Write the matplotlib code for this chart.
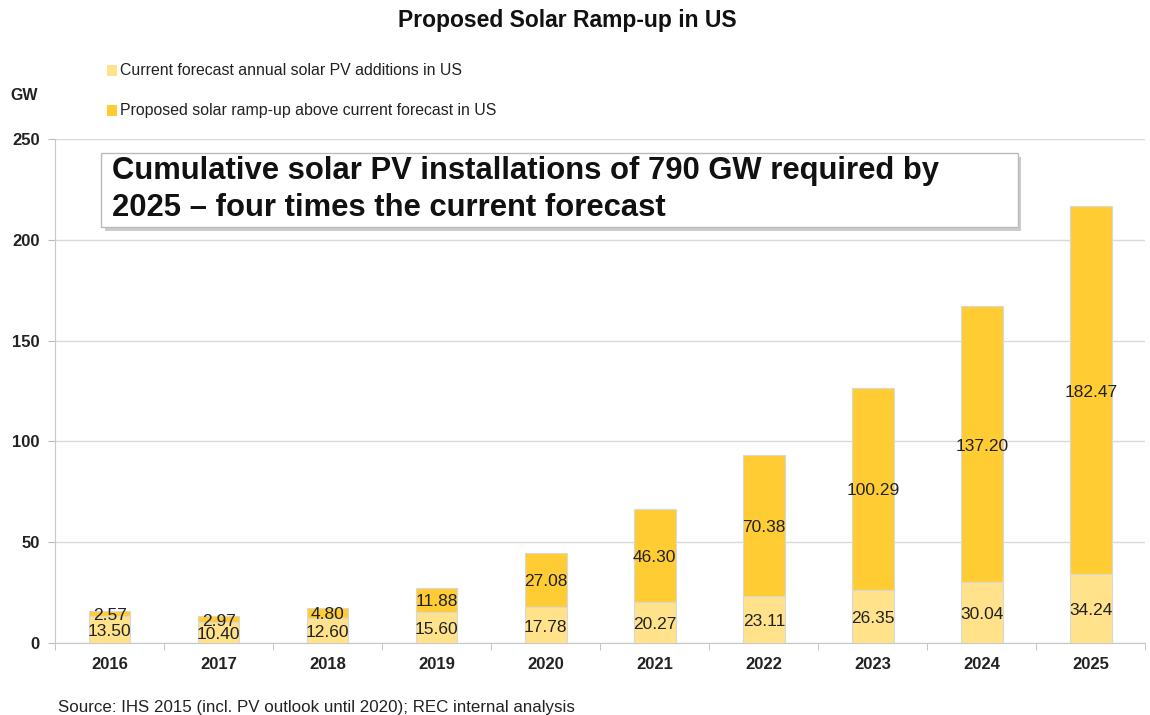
import matplotlib
matplotlib.use('Agg')
import matplotlib.pyplot as plt
import numpy as np
from matplotlib.patches import FancyBboxPatch

plt.rcParams['font.family'] = ['Liberation Sans', 'DejaVu Sans']

# Data
years = ['2016', '2017', '2018', '2019', '2020', '2021', '2022', '2023', '2024', '2025']
current = [13.50, 10.40, 12.60, 15.60, 17.78, 20.27, 23.11, 26.35, 30.04, 34.24]
rampup = [2.57, 2.97, 4.80, 11.88, 27.08, 46.30, 70.38, 100.29, 137.20, 182.47]

light = '#FFE28A'
dark = '#FFCD33'

fig = plt.figure(figsize=(11.5, 7.15), dpi=100)
ax = fig.add_axes([0.048, 0.1007, 0.948, 0.7049])

x = np.arange(len(years))
w = 0.38
ax.bar(x, current, w, color=light, edgecolor='#D8D8D8', linewidth=0.8, zorder=3)
ax.bar(x, rampup, w, bottom=current, color=dark, edgecolor='#D8D8D8', linewidth=0.8, zorder=3)

# value labels
for i in range(len(years)):
    ax.text(x[i], current[i] / 2 - 1, f'{current[i]:.2f}', ha='center', va='center',
            fontsize=12.5, color='#222222', zorder=4)
    ax.text(x[i], current[i] + rampup[i] / 2 - 1, f'{rampup[i]:.2f}', ha='center', va='center',
            fontsize=12.5, color='#222222', zorder=4)

ax.set_xlim(-0.5, len(years) - 0.5)
ax.set_ylim(0, 250)
ax.set_yticks([0, 50, 100, 150, 200, 250])
ax.set_xticks(x)
ax.set_xticklabels(years, fontsize=12, fontweight='bold', color='#222222')
ax.set_xticks(np.arange(-0.5, len(years)), minor=True)
ax.tick_params(axis='x', which='major', length=0, pad=10)
ax.tick_params(axis='x', which='minor', length=5, color='#BBBBBB', direction='out')
ax.tick_params(axis='y', length=5, color='#BBBBBB', labelsize=12, pad=6)
for lbl in ax.get_yticklabels():
    lbl.set_fontweight('bold')
    lbl.set_color('#222222')

ax.grid(axis='y', color='#D9D9D9', linewidth=1, zorder=0)
for s in ['top', 'right']:
    ax.spines[s].set_visible(False)
ax.spines['left'].set_color('#C8C8C8')
ax.spines['bottom'].set_color('#C8C8C8')

# title, legend, unit, source
fig.text(0.493, 0.972, 'Proposed Solar Ramp-up in US', ha='center', va='center',
         fontsize=16.5, fontweight='bold', color='#111111')
fig.text(0.009, 0.867, 'GW', ha='left', va='center', fontsize=11.5, fontweight='bold', color='#222222')

leg_items = [('Current forecast annual solar PV additions in US', light, 0.902),
             ('Proposed solar ramp-up above current forecast in US', dark, 0.846)]
for label, col, yy in leg_items:
    fig.patches.append(plt.Rectangle((0.093, yy - 0.008), 0.0085, 0.015, transform=fig.transFigure,
                                     facecolor=col, edgecolor='none'))
    fig.text(0.104, yy, label, ha='left', va='center', fontsize=11.4, color='#222222')

fig.text(0.05, 0.01, 'Source: IHS 2015 (incl. PV outlook until 2020); REC internal analysis',
         ha='left', va='center', fontsize=12.2, color='#222222')

# callout box with shadow
bx, by, bw, bh = 0.088, 0.683, 0.797, 0.103
shadow = FancyBboxPatch((bx + 0.003, by - 0.006), bw, bh, boxstyle='square,pad=0',
                        transform=fig.transFigure, facecolor='#AAAAAA', edgecolor='none', alpha=0.6)
box = FancyBboxPatch((bx, by), bw, bh, boxstyle='square,pad=0', transform=fig.transFigure,
                     facecolor='white', edgecolor='#BBBBBB', linewidth=1)
fig.patches.extend([shadow, box])
fig.text(0.097, by + bh / 2,
         'Cumulative solar PV installations of 790 GW required by\n2025 \u2013 four times the current forecast',
         ha='left', va='center', fontsize=22.3, fontweight='bold', linespacing=1.3,
         color='#111111')

fig.savefig('out.png', dpi=100)
